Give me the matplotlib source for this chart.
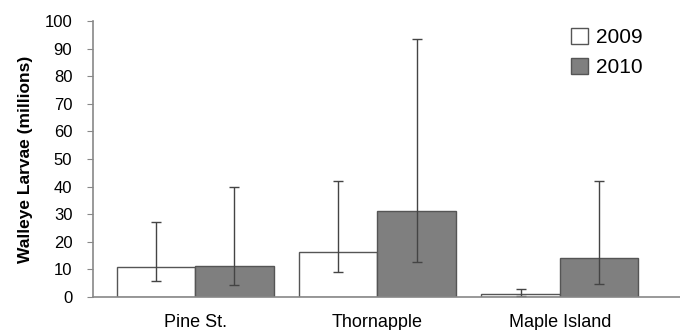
import numpy as np
import matplotlib
matplotlib.use("Agg")
import matplotlib.pyplot as plt

plt.rcParams['font.family'] = ['Liberation Sans', 'DejaVu Sans']

# data
sites = ['Pine St.', 'Thornapple', 'Maple Island']
years = ['2009', '2010']
mean_2009 = [10.8, 16.2, 1.2]
mean_2010 = [11.2, 31.2, 14.0]
low_2009 = [5.7, 9.2, 0.5]
high_2009 = [27.3, 42.1, 3.0]
low_2010 = [4.5, 12.8, 4.6]
high_2010 = [40.0, 93.5, 42.0]

fig = plt.figure(figsize=(6.8, 3.3), dpi=100)
ax = fig.add_axes([0.137, 0.10, 0.863, 0.836])

x = np.arange(len(sites))
w = 0.43
err_kw = dict(ecolor='#444444', elinewidth=1.0, capsize=3.5, capthick=1.0)

m09 = np.array(mean_2009)
m10 = np.array(mean_2010)
yerr09 = [m09 - np.array(low_2009), np.array(high_2009) - m09]
yerr10 = [m10 - np.array(low_2010), np.array(high_2010) - m10]

ax.bar(x - w / 2, m09, w, color='white', edgecolor='#555555', linewidth=1.0,
       yerr=yerr09, error_kw=err_kw, label=years[0])
ax.bar(x + w / 2, m10, w, color='#7f7f7f', edgecolor='#555555', linewidth=1.0,
       yerr=yerr10, error_kw=err_kw, label=years[1])

ax.set_xlim(-0.56, 2.66)
ax.set_ylim(0, 100)
ax.set_yticks(range(0, 101, 10))
ax.set_xticks(x)
ax.set_xticklabels(sites, fontsize=13)
ax.tick_params(axis='y', labelsize=12, length=4, pad=11, color='#888888')
ax.tick_params(axis='x', length=0, pad=12)
ax.set_ylabel('Walleye Larvae (millions)', fontsize=12.5, fontweight='bold', labelpad=8)

for s in ['top', 'right']:
    ax.spines[s].set_visible(False)
for s in ['left', 'bottom']:
    ax.spines[s].set_color('#888888')
    ax.spines[s].set_linewidth(1.2)

ax.legend(loc='upper left', bbox_to_anchor=(0.825, 0.948), bbox_transform=fig.transFigure,
          frameon=False, fontsize=15, handlelength=0.8, handleheight=0.8,
          handletextpad=0.4, labelspacing=0.55, borderpad=0)

fig.savefig('out.png', dpi=100)
